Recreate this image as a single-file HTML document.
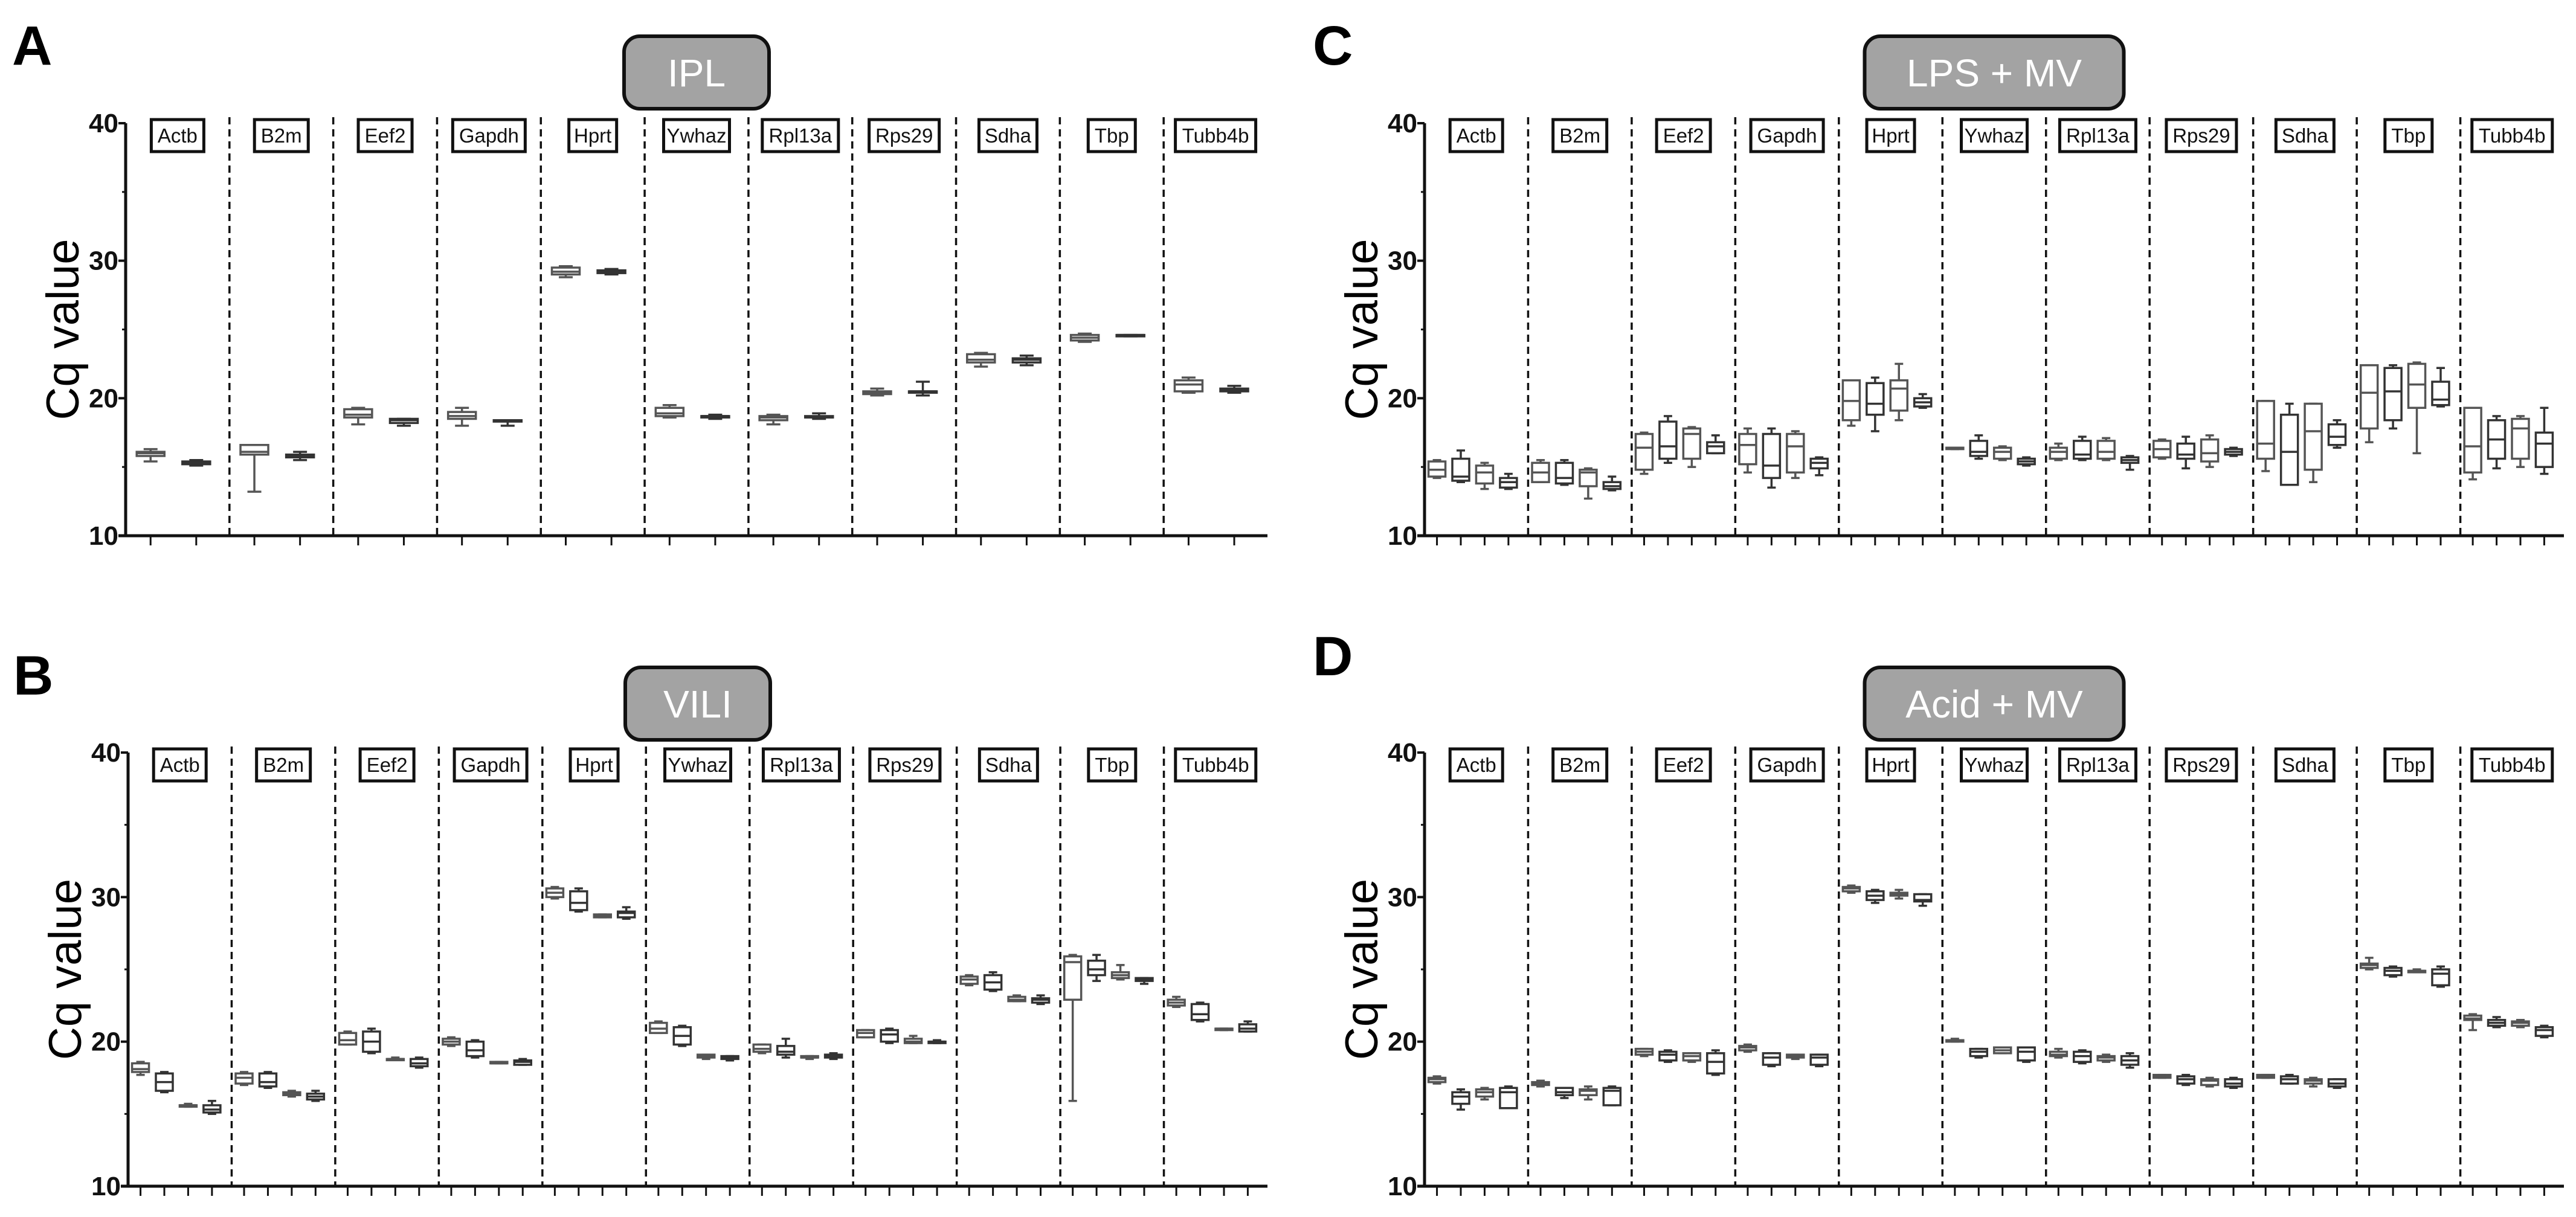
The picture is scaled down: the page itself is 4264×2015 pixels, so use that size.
<!DOCTYPE html>
<html><head><meta charset="utf-8">
<style>
html,body{margin:0;padding:0;background:#fff;}
svg{display:block;}
text{font-family:"Liberation Sans",Arial,sans-serif;}
</style></head>
<body>
<svg id="fig" width="4264" height="2015" viewBox="0 0 4264 2015" xmlns="http://www.w3.org/2000/svg"></svg>
<script>
const genes = ["Actb","B2m","Eef2","Gapdh","Hprt","Ywhaz","Rpl13a","Rps29","Sdha","Tbp","Tubb4b"];
const yTicks = [10,20,30,40];
const yMinorTicks = [15,25,35];
// each group: [min, q1, median, q3, max]
const ipl = [
 [[15.4,15.8,16.0,16.1,16.3],[15.1,15.2,15.3,15.4,15.5]],
 [[13.2,15.9,16.1,16.6,16.6],[15.5,15.7,15.8,15.9,16.1]],
 [[18.1,18.6,18.8,19.2,19.3],[18.0,18.2,18.4,18.5,18.5]],
 [[18.0,18.5,18.7,19.0,19.3],[18.0,18.3,18.4,18.4,18.4]],
 [[28.8,29.0,29.2,29.5,29.6],[29.0,29.1,29.2,29.3,29.4]],
 [[18.6,18.7,18.9,19.3,19.5],[18.5,18.6,18.7,18.7,18.8]],
 [[18.1,18.4,18.6,18.7,18.8],[18.5,18.6,18.6,18.7,18.9]],
 [[20.2,20.3,20.4,20.5,20.7],[20.2,20.4,20.5,20.5,21.2]],
 [[22.3,22.6,22.8,23.2,23.3],[22.4,22.6,22.8,22.9,23.1]],
 [[24.1,24.2,24.4,24.6,24.7],[24.5,24.5,24.6,24.6,24.6]],
 [[20.4,20.5,21.0,21.3,21.5],[20.4,20.5,20.6,20.7,20.9]]
];
const vili = [
 [[17.7,17.9,18.1,18.5,18.6],[16.5,16.6,17.2,17.8,17.9],[15.5,15.5,15.6,15.6,15.7],[15.0,15.1,15.3,15.6,15.9]],
 [[17.0,17.1,17.5,17.8,17.9],[16.8,16.9,17.2,17.8,17.9],[16.2,16.3,16.4,16.5,16.6],[15.9,16.0,16.2,16.4,16.6]],
 [[19.8,19.8,20.1,20.6,20.7],[19.2,19.3,20.0,20.7,20.9],[18.8,18.8,18.8,18.8,18.9],[18.2,18.3,18.5,18.8,18.9]],
 [[19.7,19.8,20.0,20.2,20.3],[18.9,19.0,19.4,20.0,20.1],[18.5,18.5,18.5,18.6,18.6],[18.4,18.4,18.6,18.7,18.8]],
 [[29.9,30.0,30.3,30.6,30.7],[29.0,29.1,29.6,30.4,30.6],[28.6,28.6,28.7,28.8,28.8],[28.5,28.6,28.9,29.0,29.3]],
 [[20.6,20.6,20.9,21.3,21.4],[19.7,19.8,20.4,21.0,21.1],[18.8,18.9,19.0,19.1,19.1],[18.7,18.8,18.9,19.0,19.0]],
 [[19.2,19.3,19.5,19.8,19.8],[18.9,19.1,19.3,19.7,20.2],[18.8,18.9,18.9,19.0,19.0],[18.8,18.9,19.0,19.1,19.2]],
 [[20.3,20.3,20.6,20.8,20.8],[19.9,20.0,20.5,20.8,20.9],[19.9,19.9,20.0,20.2,20.4],[19.9,19.9,20.0,20.0,20.1]],
 [[23.9,24.0,24.3,24.5,24.6],[23.5,23.6,24.1,24.6,24.8],[22.8,22.8,22.9,23.1,23.2],[22.6,22.7,22.9,23.0,23.2]],
 [[15.9,22.9,25.5,25.9,26.0],[24.2,24.6,25.0,25.6,26.0],[24.3,24.4,24.6,24.8,25.3],[24.0,24.2,24.3,24.4,24.4]],
 [[22.4,22.5,22.7,22.9,23.1],[21.4,21.5,21.9,22.6,22.7],[20.8,20.8,20.9,20.9,20.9],[20.7,20.7,20.9,21.2,21.4]]
];
const lpsmv = [
 [[14.2,14.3,14.8,15.4,15.5],[13.9,14.0,14.3,15.6,16.2],[13.4,13.8,14.6,15.1,15.3],[13.4,13.5,13.9,14.2,14.5]],
 [[13.9,13.9,14.6,15.3,15.5],[13.7,13.8,14.2,15.3,15.5],[12.7,13.6,14.6,14.8,14.9],[13.3,13.4,13.6,13.9,14.3]],
 [[14.5,14.8,16.4,17.4,17.5],[15.3,15.6,16.5,18.3,18.7],[15.0,15.6,17.4,17.8,17.9],[16.0,16.0,16.5,16.8,17.3]],
 [[14.6,15.2,16.6,17.4,17.8],[13.5,14.2,15.1,17.4,17.8],[14.2,14.6,16.5,17.4,17.6],[14.4,14.9,15.3,15.6,15.7]],
 [[18.0,18.4,19.8,21.3,21.3],[17.6,18.8,19.6,21.1,21.5],[18.4,19.1,20.7,21.3,22.5],[19.3,19.4,19.7,20.0,20.3]],
 [[16.3,16.3,16.4,16.4,16.4],[15.6,15.8,16.1,16.9,17.3],[15.5,15.6,16.1,16.4,16.5],[15.1,15.2,15.4,15.6,15.7]],
 [[15.5,15.6,16.1,16.4,16.7],[15.5,15.6,15.9,16.9,17.2],[15.5,15.6,16.1,16.9,17.1],[14.8,15.3,15.5,15.7,15.8]],
 [[15.6,15.7,16.3,16.9,17.0],[14.9,15.6,15.9,16.7,17.2],[15.0,15.4,16.0,17.0,17.3],[15.8,15.9,16.1,16.3,16.4]],
 [[14.7,15.6,16.7,19.8,19.8],[13.7,13.7,16.1,18.8,19.6],[13.9,14.8,17.6,19.6,19.6],[16.4,16.6,17.2,18.1,18.4]],
 [[16.8,17.8,20.4,22.4,22.4],[17.8,18.4,20.5,22.2,22.4],[16.0,19.3,21.0,22.5,22.6],[19.4,19.5,19.9,21.2,22.2]],
 [[14.1,14.6,16.5,19.3,19.3],[14.9,15.6,17.0,18.4,18.7],[15.0,15.6,17.8,18.5,18.7],[14.5,15.0,16.7,17.5,19.3]]
];
const acidmv = [
 [[17.1,17.2,17.4,17.5,17.6],[15.3,15.7,16.2,16.5,16.7],[16.0,16.2,16.5,16.7,16.8],[15.4,15.4,16.5,16.8,16.9]],
 [[16.9,17.0,17.1,17.2,17.3],[16.1,16.3,16.5,16.8,16.8],[16.0,16.3,16.6,16.7,16.9],[15.6,15.6,16.6,16.8,16.9]],
 [[19.0,19.1,19.3,19.5,19.5],[18.6,18.7,19.1,19.3,19.4],[18.6,18.7,19.0,19.2,19.2],[17.7,17.8,18.6,19.2,19.4]],
 [[19.3,19.4,19.6,19.7,19.8],[18.3,18.4,18.9,19.2,19.2],[18.8,18.9,19.0,19.1,19.1],[18.3,18.4,18.9,19.1,19.1]],
 [[30.3,30.4,30.6,30.7,30.8],[29.6,29.8,30.1,30.4,30.5],[29.9,30.1,30.2,30.3,30.5],[29.4,29.7,29.8,30.2,30.2]],
 [[20.0,20.0,20.1,20.1,20.2],[18.9,19.0,19.3,19.5,19.5],[19.2,19.2,19.4,19.6,19.6],[18.6,18.7,19.3,19.6,19.6]],
 [[18.9,19.0,19.1,19.3,19.5],[18.5,18.6,19.0,19.3,19.4],[18.6,18.7,18.9,19.0,19.1],[18.2,18.4,18.7,19.0,19.2]],
 [[17.5,17.5,17.6,17.7,17.7],[17.0,17.1,17.4,17.6,17.7],[16.9,17.0,17.3,17.4,17.5],[16.8,16.9,17.1,17.4,17.5]],
 [[17.5,17.5,17.6,17.7,17.7],[17.1,17.1,17.4,17.6,17.7],[16.9,17.1,17.3,17.4,17.5],[16.8,16.9,17.1,17.4,17.4]],
 [[25.0,25.1,25.3,25.4,25.8],[24.5,24.6,24.9,25.1,25.2],[24.8,24.8,24.9,24.9,25.0],[23.8,23.9,24.7,25.0,25.2]],
 [[20.8,21.5,21.6,21.8,21.9],[21.0,21.1,21.3,21.5,21.7],[21.0,21.1,21.3,21.4,21.5],[20.3,20.4,20.8,21.0,21.1]]
];
const panelLetters = ["A","B","C","D"];
const panelTitles = ["IPL","VILI","LPS + MV","Acid + MV"];
const panelData = [ipl, vili, lpsmv, acidmv];

const NS = "http://www.w3.org/2000/svg";
const svg = document.getElementById("fig");
function mk(tag, attrs, parent){
  const e = document.createElementNS(NS, tag);
  for (const k in attrs) e.setAttribute(k, attrs[k]);
  (parent||svg).appendChild(e);
  return e;
}
const layout = [
  {ox:208, end:2098, y40:204, y10:887, lx:20, ly:107, tw:240, tTop:60, tH:120},
  {ox:212, end:2098, y40:1246, y10:1964, lx:22, ly:1150, tw:240, tTop:1105, tH:120},
  {ox:2358, end:4244, y40:204, y10:887, lx:2173, ly:107, tw:429, tTop:60, tH:120},
  {ox:2358, end:4244, y40:1246, y10:1964, lx:2173, ly:1118, tw:429, tTop:1105, tH:120}
];
const geneBoxW = [87,89,89,120,79,109,126,116,96,78,133];

layout.forEach((L, p) => {
  const data = panelData[p];
  const g = mk("g", {});
  
  
  const yS = v => L.y10 - (v - 10) * (L.y10 - L.y40) / 30;
  const binW = (L.end - L.ox) / genes.length;
  const mid = (L.ox + L.end) / 2;

  const letter = mk("text", {x:L.lx, y:L.ly, "font-size":92, "font-weight":"bold", fill:"#000"}, g);
  letter.textContent = panelLetters[p];
  
  

  const tb = mk("g", {}, g);
  
  
  mk("rect", {x:mid - L.tw/2, y:L.tTop, width:L.tw, height:L.tH, rx:26, ry:26, fill:"#a3a3a3", stroke:"#111", "stroke-width":6}, tb);
  const tt = mk("text", {x:mid, y:L.tTop + L.tH/2 + 23, "font-size":64, fill:"#fff", "text-anchor":"middle", "font-family":"Liberation Sans Narrow, Liberation Sans, sans-serif"}, tb);
  tt.textContent = panelTitles[p];

  const yl = mk("text", {x:0, y:0, "font-size":76, fill:"#000", "text-anchor":"middle", transform:`translate(${L.ox - 78},${(L.y40+L.y10)/2}) rotate(-90)`}, g);
  yl.textContent = "Cq value";
  
  

  mk("line", {x1:L.ox, y1:L.y40, x2:L.ox, y2:L.y10, stroke:"#111", "stroke-width":5}, g);
  mk("line", {x1:L.ox - 12, y1:L.y10, x2:L.end, y2:L.y10, stroke:"#111", "stroke-width":5}, g);
  yTicks.forEach(t => {
    mk("line", {x1:L.ox - 12, y1:yS(t), x2:L.ox, y2:yS(t), stroke:"#111", "stroke-width":4}, g);
    const lab = mk("text", {x:L.ox - 12, y:yS(t) + 15, "font-size":44, "font-weight":"bold", "text-anchor":"end", fill:"#111", "font-family":"Liberation Sans Narrow, Liberation Sans, sans-serif"}, g);
    lab.textContent = t;
    
    
  });
  yMinorTicks.forEach(t => {
    mk("line", {x1:L.ox - 6, y1:yS(t), x2:L.ox, y2:yS(t), stroke:"#111", "stroke-width":3}, g);
  });

  genes.forEach((gene, i) => {
    const bx = L.ox + i * binW;
    if (i > 0) {
      const sep = mk("line", {x1:bx, y1:L.y40 - 10, x2:bx, y2:L.y10, stroke:"#111", "stroke-width":3.5, "stroke-dasharray":"12 8"}, g);
      
      
    }
    const lg = mk("g", {}, g);
    
    
    const w = geneBoxW[i];
    mk("rect", {x:bx + binW/2 - w/2, y:L.y40 - 6, width:w, height:53, fill:"#fff", stroke:"#111", "stroke-width":5}, lg);
    const gt = mk("text", {x:bx + binW/2, y:L.y40 + 32, "font-size":33, "text-anchor":"middle", fill:"#111", "font-family":"Liberation Sans Narrow, Liberation Sans, sans-serif"}, lg);
    gt.textContent = gene;

    const groups = data[i];
    const n = groups.length;
    const fr = n === 2 ? [0.24, 0.68] : [0.12, 0.35, 0.58, 0.81];
    const bw = n === 2 ? 46 : 28;
    groups.forEach((s, k) => {
      const cx = bx + fr[k] * binW;
      mk("line", {x1:cx, y1:L.y10, x2:cx, y2:L.y10 + 16, stroke:"#111", "stroke-width":3}, g);
      const bg = mk("g", {fill:"#fff", stroke:(k % 2 ? "#333" : "#555"), "stroke-width":3.5}, g);
      
      
      mk("line", {x1:cx, y1:yS(s[4]), x2:cx, y2:yS(s[3])}, bg);
      mk("line", {x1:cx, y1:yS(s[1]), x2:cx, y2:yS(s[0])}, bg);
      mk("line", {x1:cx - bw/4, y1:yS(s[4]), x2:cx + bw/4, y2:yS(s[4])}, bg);
      mk("line", {x1:cx - bw/4, y1:yS(s[0]), x2:cx + bw/4, y2:yS(s[0])}, bg);
      mk("rect", {x:cx - bw/2, y:yS(s[3]), width:bw, height:Math.max(2, yS(s[1]) - yS(s[3]))}, bg);
      mk("line", {x1:cx - bw/2, y1:yS(s[2]), x2:cx + bw/2, y2:yS(s[2])}, bg);
    });
  });
});
</script>
</body></html>
